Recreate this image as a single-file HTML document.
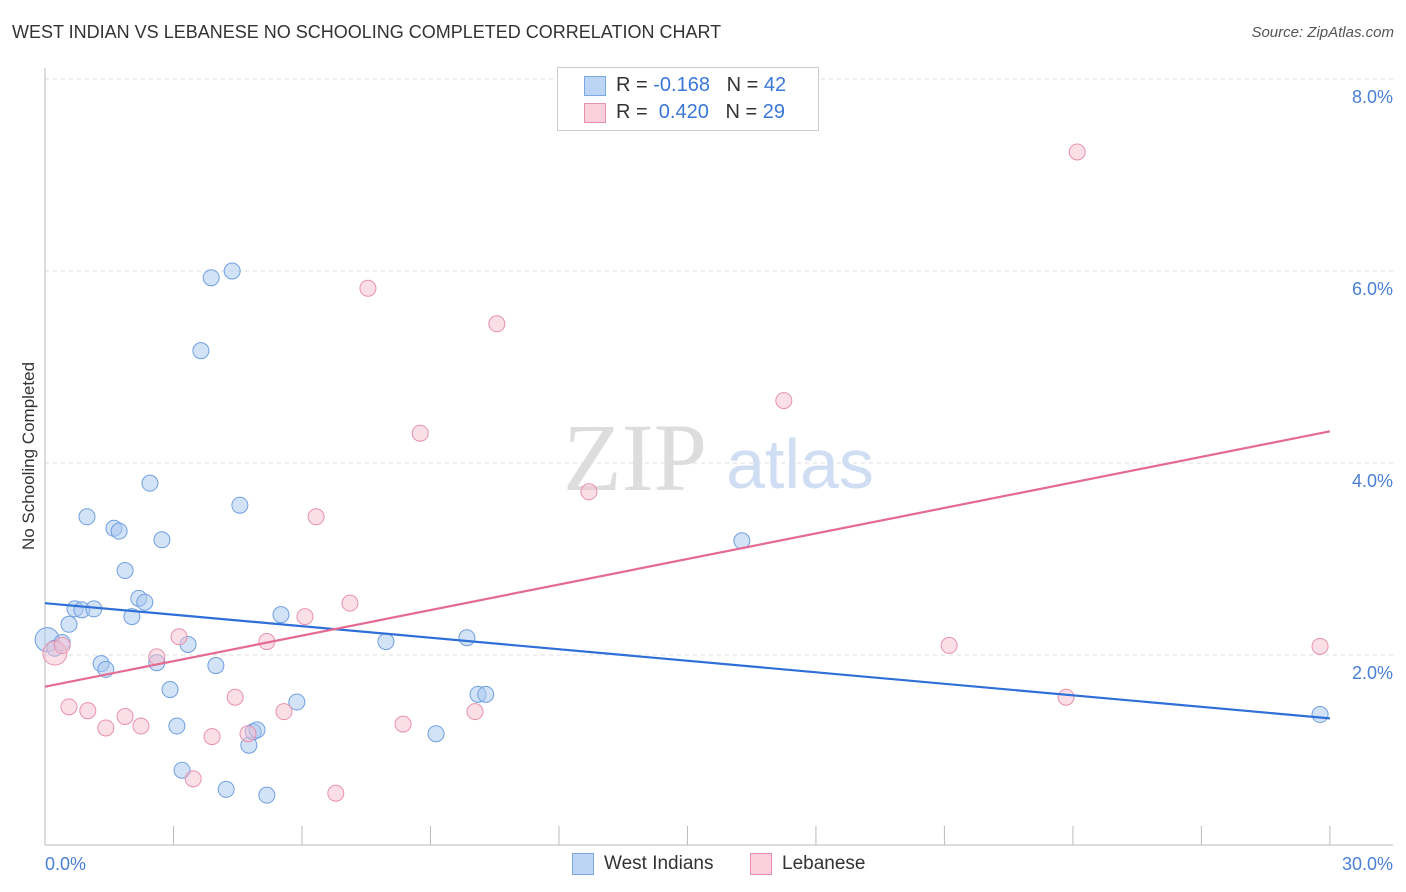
<!DOCTYPE html>
<html><head><meta charset="utf-8"><style>
body{margin:0;background:#fff;font-family:"Liberation Sans",sans-serif;}
#wrap{position:relative;width:1406px;height:892px;overflow:hidden;}
.t{position:absolute;white-space:nowrap;}
</style></head><body>
<div id="wrap">
<div class="t" style="left:12px;top:22px;font-size:18px;color:#333">WEST INDIAN VS LEBANESE NO SCHOOLING COMPLETED CORRELATION CHART</div>
<div class="t" style="right:12px;top:24px;font-size:15px;color:#555;font-style:italic">Source: ZipAtlas.com</div>
<svg id="svg" width="1406" height="892" style="position:absolute;left:0;top:0"></svg>
</div>
<script>
const xTicks=[0,30];
const yTicks=[2,4,6,8];
const blueX=[0.05,0.23,0.40,0.56,0.70,0.86,0.98,1.14,1.31,1.42,1.61,1.73,1.87,2.03,2.19,2.33,2.45,2.61,2.73,2.92,3.08,3.20,3.34,3.64,3.88,3.99,4.23,4.37,4.55,4.76,4.86,4.95,5.18,5.51,5.88,7.96,9.13,9.85,10.11,10.29,16.27,29.77];
const blueY=[2.16,2.07,2.13,2.32,2.48,2.47,3.44,2.48,1.91,1.85,3.32,3.29,2.88,2.40,2.59,2.55,3.79,1.92,3.20,1.64,1.26,0.80,2.11,5.17,5.93,1.89,0.60,6.00,3.56,1.06,1.20,1.22,0.54,2.42,1.51,2.14,1.18,2.18,1.59,1.59,3.19,1.38];
const pinkX=[0.23,0.40,0.56,1.00,1.42,1.87,2.24,2.61,3.13,3.46,3.90,4.44,4.74,5.18,5.58,6.07,6.33,6.79,7.12,7.54,8.36,8.76,10.04,10.55,12.70,17.25,21.11,23.84,24.10,29.77];
const pinkY=[2.02,2.10,1.46,1.42,1.24,1.36,1.26,1.98,2.19,0.71,1.15,1.56,1.18,2.14,1.41,2.40,3.44,0.56,2.54,5.82,1.28,4.31,1.41,5.45,3.70,4.65,2.10,1.56,7.24,2.09];
const blueLine=[2.54,1.34];
const pinkLine=[1.67,4.33];
const NS="http://www.w3.org/2000/svg";
const svg=document.getElementById('svg');
const X=v=>45+v*42.83, Y=v=>847-v*96;
function mk(tag,attrs){const e=document.createElementNS(NS,tag);for(const k in attrs)e.setAttribute(k,attrs[k]);svg.appendChild(e);return e;}
yTicks.forEach(t=>{
 const g=mk('line',{x1:45,x2:1393,y1:Y(t),y2:Y(t),stroke:'#ddd','stroke-dasharray':'4,4'});
 
 
 const l=mk('text',{x:1393,y:Y(t)+24,'text-anchor':'end','font-size':18,fill:'#4a7fd4','font-family':'Liberation Sans'});
 l.textContent=t.toFixed(1)+'%';
 
 
});
const topGrid=mk('line',{x1:45,x2:1393,y1:79,y2:79,stroke:'#ddd','stroke-dasharray':'4,4'});
mk('line',{x1:45,x2:45,y1:68,y2:845,stroke:'#bbb'});
mk('line',{x1:45,x2:1393,y1:845,y2:845,stroke:'#bbb'});
for(let i=0;i<=10;i++){mk('line',{x1:X(i*3),x2:X(i*3),y1:826,y2:845,stroke:'#bbb'});}
xTicks.forEach((t,i)=>{const l=mk('text',{x:i?1393:45,y:870,'text-anchor':i?'end':'start','font-size':18,fill:'#4a7fd4','font-family':'Liberation Sans'});l.textContent=t.toFixed(1)+'%';
 
 });
const yt=mk('text',{x:34,y:456,transform:'rotate(-90 34 456)','text-anchor':'middle','font-size':17,fill:'#333','font-family':'Liberation Sans'});yt.textContent='No Schooling Completed';


const w1=mk('text',{x:635,y:490,'text-anchor':'middle','font-size':96,fill:'#ddd','font-family':'Liberation Serif'});w1.textContent='ZIP';


const w2=mk('text',{x:800,y:488,'text-anchor':'middle','font-size':70,fill:'#d0def4','font-family':'Liberation Sans'});w2.textContent='atlas';


function pts(xs,ys,fill,stroke,name){xs.forEach((x,i)=>{const c=mk('circle',{cx:X(x),cy:Y(ys[i]),r:i==0?12:8,fill:fill,'fill-opacity':0.5,stroke:stroke,'stroke-width':1});
 
 });}
pts(blueX,blueY,'#a8c8f0','#6f9fe0','blue-point');
pts(pinkX,pinkY,'#f8bfd0','#e890ae','pink-point');
const bl=mk('line',{x1:X(0),x2:X(30),y1:Y(blueLine[0]),y2:Y(blueLine[1]),stroke:'#2f6fd8','stroke-width':2.2});


const pl=mk('line',{x1:X(0),x2:X(30),y1:Y(pinkLine[0]),y2:Y(pinkLine[1]),stroke:'#e56a93','stroke-width':2.2});


</script>
<div style="position:absolute;left:557px;top:67px;width:260px;height:62px;border:1px solid #ccc;background:#fff;font-size:20px;color:#333">
 <div class="t" style="left:26px;top:8px;width:20px;height:18px;background:#bcd5f5;border:1px solid #7aa8e0"></div>
 <div class="t" style="left:58px;top:6px">R = <span style="color:#3a78d8">-0.168</span>&nbsp;&nbsp;&nbsp;N = <span style="color:#3a78d8">42</span></div>
 <div class="t" style="left:26px;top:35px;width:20px;height:18px;background:#fbd0dd;border:1px solid #e890ae"></div>
 <div class="t" style="left:58px;top:33px">R = &nbsp;<span style="color:#3a78d8">0.420</span>&nbsp;&nbsp;&nbsp;N = <span style="color:#3a78d8">29</span></div>
</div>
<div class="t" style="left:572px;top:853px;width:20px;height:20px;background:#bcd5f5;border:1px solid #7aa8e0"></div>
<div class="t" style="left:604px;top:853px;font-size:19px;color:#333">West Indians</div>
<div class="t" style="left:750px;top:853px;width:20px;height:20px;background:#fbd0dd;border:1px solid #e890ae"></div>
<div class="t" style="left:782px;top:853px;font-size:19px;color:#333">Lebanese</div>
</body></html>
